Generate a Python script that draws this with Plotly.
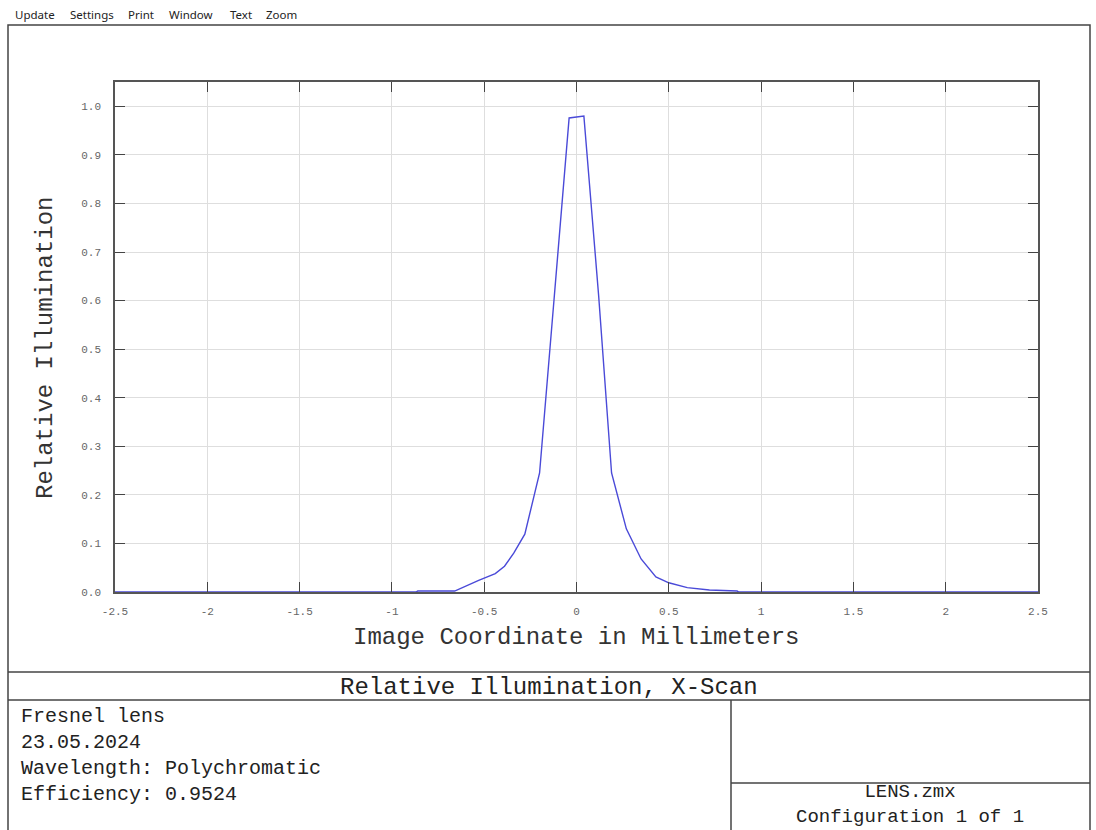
import plotly.graph_objects as go

# ---- data ----
x_mm = [-2.5, -0.87, -0.86, -0.66, -0.53, -0.44, -0.39, -0.34, -0.28, -0.20, -0.12, -0.04,
        0.04, 0.12, 0.19, 0.27, 0.35, 0.43, 0.50, 0.60, 0.72, 0.87, 0.88, 2.5]
rel_illum = [0.0, 0.0, 0.002, 0.002, 0.024, 0.038, 0.053, 0.08, 0.119, 0.245, 0.61, 0.976,
             0.98, 0.61, 0.245, 0.13, 0.068, 0.031, 0.019, 0.009, 0.004, 0.002, 0.0, 0.0]

x_tickvals = [-2.5, -2, -1.5, -1, -0.5, 0, 0.5, 1, 1.5, 2, 2.5]
x_ticktext = ["-2.5", "-2", "-1.5", "-1", "-0.5", "0", "0.5", "1", "1.5", "2", "2.5"]
y_tickvals = [0.0, 0.1, 0.2, 0.3, 0.4, 0.5, 0.6, 0.7, 0.8, 0.9, 1.0]
y_ticktext = ["0.0", "0.1", "0.2", "0.3", "0.4", "0.5", "0.6", "0.7", "0.8", "0.9", "1.0"]

menu_items = ["Update", "Settings", "Print", "Window", "Text", "Zoom"]
title_text = "Relative Illumination, X-Scan"
info_lines = ["Fresnel lens", "23.05.2024", "Wavelength: Polychromatic", "Efficiency: 0.9524"]
file_lines = ["LENS.zmx", "Configuration 1 of 1"]
x_title = "Image Coordinate in Millimeters"
y_title = "Relative Illumination"

# ---- layout geometry (pixels) ----
W, H = 1096, 830
PL, PR, PT, PB = 115, 1038, 82, 592
MONO = "Liberation Mono, Courier New, monospace"


def px(x):
    return (x - PL) / (PR - PL)


def py(y):
    return (PB - y) / (PB - PT)


fig = go.Figure()
fig.add_trace(go.Scatter(x=x_mm, y=rel_illum, mode="lines",
                         line=dict(color="#4a4ad8", width=1.4),
                         showlegend=False, hoverinfo="x+y"))

axis_common = dict(showline=True, linecolor="#555555", linewidth=1.5,
                   mirror="ticks", ticks="inside", ticklen=10, tickcolor="#444444",
                   tickwidth=1.2, showgrid=True, gridcolor="#dedede", gridwidth=1,
                   zeroline=False,
                   tickfont=dict(family=MONO, size=11, color="#666666"))

fig.update_xaxes(range=[-2.5, 2.5], tickvals=x_tickvals, ticktext=x_ticktext,
                 ticklabelstandoff=8, **axis_common)
fig.update_yaxes(range=[0, 1.05], tickvals=y_tickvals, ticktext=y_ticktext,
                 ticklabelstandoff=10, **axis_common)

shapes = []
line_style = dict(color="#444444", width=1.5)
# outer frame
shapes.append(dict(type="rect", xref="paper", yref="paper",
                   x0=px(8), x1=px(1090), y0=py(25), y1=py(840), line=line_style))
# horizontal separators
for yy in (672, 700):
    shapes.append(dict(type="line", xref="paper", yref="paper",
                       x0=px(8), x1=px(1090), y0=py(yy), y1=py(yy), line=line_style))
# right box
shapes.append(dict(type="line", xref="paper", yref="paper",
                   x0=px(731), x1=px(731), y0=py(700), y1=py(840), line=line_style))
shapes.append(dict(type="line", xref="paper", yref="paper",
                   x0=px(731), x1=px(1090), y0=py(783), y1=py(783), line=line_style))

ann = []
# menu bar
menu_x = [13, 68, 126, 167, 228, 264]
for label, mx in zip(menu_items, menu_x):
    ann.append(dict(text=label, x=px(mx), y=py(14), xref="paper", yref="paper",
                    xanchor="left", yanchor="middle", showarrow=False,
                    font=dict(family="Noto Sans, Open Sans, sans-serif", size=11.5, color="#222222")))
# axis titles
ann.append(dict(text=x_title, x=px(576), y=py(637), xref="paper", yref="paper",
                xanchor="center", yanchor="middle", showarrow=False,
                font=dict(family=MONO, size=24, color="#333333")))
ann.append(dict(text=y_title, x=px(46), y=py(348), xref="paper", yref="paper",
                xanchor="center", yanchor="middle", showarrow=False, textangle=-90,
                font=dict(family=MONO, size=24, color="#333333")))
# title box
ann.append(dict(text=title_text, x=px(549), y=py(687), xref="paper", yref="paper",
                xanchor="center", yanchor="middle", showarrow=False,
                font=dict(family=MONO, size=24, color="#222222")))
# info block
ann.append(dict(text="<br>".join(info_lines), x=px(19), y=py(703), xref="paper", yref="paper",
                xanchor="left", yanchor="top", align="left", showarrow=False,
                font=dict(family=MONO, size=20, color="#222222")))
# file block
ann.append(dict(text="<br>".join(file_lines), x=px(910), y=py(830), xref="paper", yref="paper",
                xanchor="center", yanchor="bottom", align="center", showarrow=False,
                font=dict(family=MONO, size=19, color="#222222")))

fig.update_layout(width=W, height=H,
                  margin=dict(l=PL, r=W - PR, t=PT, b=H - PB, pad=0),
                  paper_bgcolor="white", plot_bgcolor="white",
                  shapes=shapes, annotations=ann, showlegend=False)

fig.write_html("out.html")
